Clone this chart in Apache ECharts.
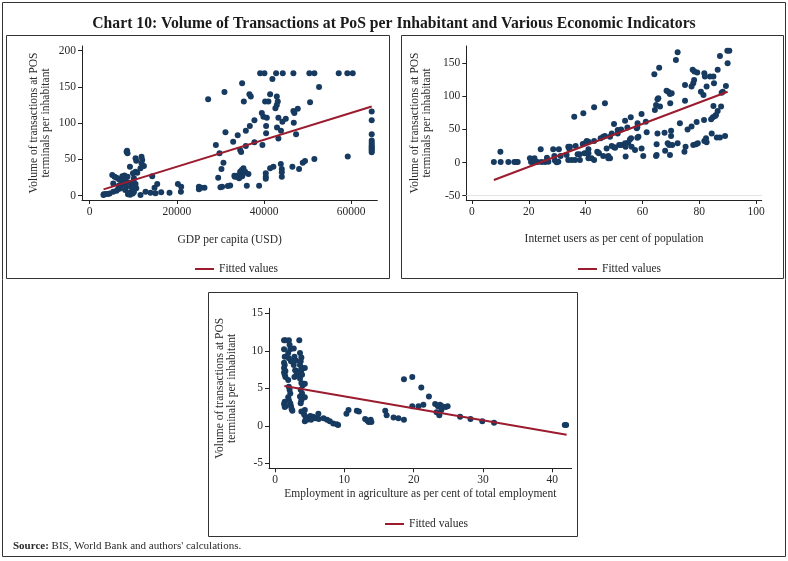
<!DOCTYPE html>
<html><head><meta charset="utf-8">
<script src="https://cdn.jsdelivr.net/npm/echarts@6/dist/echarts.min.js"></script>
<style>html,body{margin:0;padding:0;background:#fff}#c{width:788px;height:561px}</style>
</head><body><div id="c"></div>
<script>
// ---- Data ----
const titleText = 'Chart 10: Volume of Transactions at PoS per Inhabitant and Various Economic Indicators';
const yTitle = 'Volume of transactions at POS\nterminals per inhabitant';
const xTitles = ['GDP per capita (USD)', 'Internet users as per cent of population', 'Employment in agriculture as per cent of total employment'];
const legendName = 'Fitted values';
const sourceText = 'BIS, World Bank and authors\' calculations.';

const xTicks1 = [0, 20000, 40000, 60000];
const yTicks1 = [0, 50, 100, 150, 200];
const xTicks2 = [0, 20, 40, 60, 80, 100];
const yTicks2 = [-50, 0, 50, 100, 150];
const xTicks3 = [0, 10, 20, 30, 40];
const yTicks3 = [-5, 0, 5, 10, 15];

// Panel 1: GDP per capita vs volume
const gdpPoints = [
[3200,1],[3240,2],[3700,2.3],[4210,2.3],[4600,3],[5430,5.5],[6186,7],[6506,9],[7000,10],
[5200,28.5],[5728,26.2],[6186,24.8],[6735,22.6],[7101,21.6],[5430,17],[6735,14],[7300,15],[7900,16],
[7500,27],[7800,25],[8000,28],[8200,22],[8500,19],[8700,26],[7700,20],[8400,12],
[8480,60.7],[8700,58.5],[8600,62],[9255,40],
[10540,51.6],[10700,48.3],[11910,53.8],[12070,49.2],[11910,44.7],[12460,41],[11680,37.8],
[9942,31],[10540,33],[10930,31.7],
[10170,24],[9622,12.4],[10540,16.1],[10700,10.2],[9782,7.9],[9400,18],[10100,20],
[8170,8],[8800,2],[9300,1.5],[9900,3],[10170,5],[9000,4],
[11680,1],[12830,5.5],[13975,4],[15120,3.3],[16425,4.7],
[14365,27],[14890,11],[15510,16],[18330,4],
[20250,16],[21010,12.4],[20940,5.5],
[25070,12.4],[25070,8.8],[25590,11],[26350,11],
[27190,133],[30930,143],[31160,87.4],[28960,70],[29790,58.5],[30700,45.5],[30240,36.8],[29490,24.8],[30010,11.6],[30400,12.4],[31700,13.4],
[32925,74.5],[33206,27.6],[33969,83.4],[33740,26],
[34983,155],[41924,161],[52623,150],[36655,140],[36975,137],[35372,130],[40252,130],[41008,130],[41397,140],[42932,137],[43161,130],[42932,125],[42612,120.5],[50561,129],
[46736,117],[46965,114],[47744,120],[39496,114],[39863,109],[40642,107.6],[37800,104],[43300,107.6],[44216,102],[44994,106],[46826,100.7],
[36746,96],[35830,89.7],[40481,96],[40481,86],[42979,94],[43895,89.7],[43300,79],[47354,84.7],[37800,73.6],[39635,70],[35830,68.6],[34525,63],[34754,60.3],[59200,54],
[64700,116],[64700,104],[64700,84.7],[64700,76],[64700,73],[64700,70],[64700,68],[64700,66],[64700,64],[64700,62],[64700,60],
[51546,50.6],[49400,47.9],[48880,45.5],[48040,36.8],[46507,40],[43850,43.7],[44078,36.8],[44078,32.3],[44078,26.2],[42153,40],[41397,37.8],
[40405,30.9],[40405,26.2],[40405,23.4],[38877,13.8],[36059,13.8],[35280,37.8],[34910,35.4],[34525,33.1],[35280,30.9],[35670,33.1],[36430,30],
[34000,28],[33300,26],[34300,24],[35000,27],[32237,14],
[39113,169],[40092,169],[42773,169],[44300,169],[46736,169],[50400,169],[51546,169],[57135,169],[59107,169],[60344,169]
];
const gdpFit = [[3200,8.8],[64700,123]];

// Panel 2: Internet users vs volume
const netPoints = [
[7.7,1],[10.1,1],[12.8,1],[14.9,1],[15.7,1],[16.1,1],[10,16.5],
[20.4,6.4],[22,6.4],[20.8,1],[21.5,1],[24.2,20],[23.1,1],[24.5,1],[25.7,1],[26.9,1.4],[26.4,7.4],
[28.6,20],[30.6,20],[29,10],[29.2,3],[30.4,1.4],[29.8,0.5],[31.2,10],
[33.9,24],[34.2,21.4],[34.5,24],[33.3,11.5],[33.9,4],[35.1,4],
[36,69.3],[36.5,25],[37.2,12.5],[37.9,12.5],[36.3,4],[38,4],
[39.2,74.4],[39,28],[39.8,29],[40.4,32.5],[41,31.5],[39.6,14],[40.3,14],[41,14],[41,20],[41,6.4],[42.1,6.4],[43,4],
[43,83.5],[43,32.5],[44.1,16.5],[44.5,15],[44.7,14],[45.3,36.6],[46.2,39],[46.8,40],[46.2,10],[48,10],[48,6.4],
[46.8,89.5],[47.4,21.4],[48.6,39],[49.2,44],[49.2,25],[50,23],[50.4,22.4],[48.6,6.4],[50,58.3],
[51.3,44],[51.3,49],[52.5,50],[51.8,26.5],[52.7,26.5],[53.9,29],[54.1,24],[53.9,63.3],[54.1,9],[54.7,53],
[55,30],[55.6,35],[56,36.6],[55.9,68.6],[56.2,24],[57.4,19],[58,51.8],[58.2,53.2],[58.3,59.3],[58.2,37.6],[58.6,39],
[59.7,73.4],[59.7,21.4],[60.3,10],[61.2,61.8],[61.5,45.7],
[64.2,133.3],[64.4,79.5],[64.8,87],[65.3,95.6],[65.6,97],[65,11.5],[64.8,10],[65,27.6],[65.3,44],[65.9,143.3],[66.2,84.5],
[67.8,45],[68,18],[68.5,108.5],[69.1,107],[69.7,103.6],[70.3,104.6],[68.9,29],[69.4,26.5],[69.7,11.5],[70.1,48],[70.1,40],[69.8,89.5],[70.5,26.5],
[71.8,155],[72.4,166.6],[72.4,29],[73.2,59.3],[75,93.5],[75,117],[74.8,16.5],[75.2,24],[75.9,50],[77.3,54.3],
[77.7,140],[78.3,137.4],[78.2,124.8],[77.9,119.8],[77.3,114.7],[77.9,26.5],[78.9,27.6],[79.5,29],[79.3,136],[79.1,61.3],
[80.6,107],[81.5,102],[81.7,64.3],[81.8,135],[82,130],[81.8,32.6],[82.4,36.6],[82.6,30.5],[82.6,114.7],[83.8,130],[85,130],[84.4,44],
[84.2,65.4],[84.8,68.4],[85.6,70.4],[85.9,71.9],[85.2,119.8],[85,85.6],[86.5,78],[86.5,140],
[86.2,38],[87.3,38],[87.3,161],[87.9,105.6],[88.3,107],[87.7,84.5],[89.1,40],[89.4,115.7],[89.9,169],[90.6,169],[90,150]
];
const netFit = [[7.7,-26.3],[90,107]];

// Panel 3: Employment in agriculture vs volume
const agriPoints = [
[1.3,11.4],[1.5,11.4],[1.3,10.2],[1.4,9.2],[1.3,8.4],[1.4,8.1],[1.3,7.7],[1.5,7.3],[1.3,7.1],[1.4,6.8],[1.5,6.5],[1.4,3.2],[1.3,2.9],[1.5,2.6],[1.4,2.5],
[2.0,11.4],[2.1,10.8],[2.2,10.2],[1.9,9.7],[2.0,9.0],[2.3,8.6],[1.9,6.1],[2.0,5.2],[2.1,4.8],[2.2,4.3],[1.9,3.8],[2.0,3.4],[2.2,3.0],[2.3,2.6],[2.4,2.2],[2.5,2.0],
[2.7,10.3],[2.8,9.2],[3.0,8.7],[2.7,8.1],[2.9,7.4],[3.1,6.8],[2.8,6.5],[3.2,7.3],
[3.5,11.4],[3.6,9.7],[3.8,9.1],[3.7,8.6],[3.6,8.1],[3.9,7.7],[3.8,7.4],[3.7,7.1],[3.9,6.8],[3.6,6.3],[3.8,5.7],[4.0,5.4],[3.7,4.8],[3.9,4.3],[3.6,3.9],[3.8,3.4],[3.7,3.0],
[4.3,7.7],[4.3,5.6],[4.3,3.8],[4.3,2.1],
[3.8,1.9],[4.2,1.5],[4.4,1.2],[4.6,0.8],[4.3,0.6],[4.8,0.9],[5.1,1.3],[5.5,1.2],[5.8,1.0],[6.3,0.9],[5.2,0.8],[6.25,1.6],
[7.0,1.0],[7.5,0.8],[7.9,0.6],[8.4,0.3],[8.9,0.2],[9.1,0.1],
[10.3,1.6],[10.6,2.1],[11.8,2.0],[12.1,1.9],[13.0,0.9],[13.3,0.7],[13.5,0.5],[13.8,0.8],[13.9,0.5],
[15.9,2.0],[16.1,1.4],[17.1,1.1],[17.8,1.0],[18.6,0.8],[18.6,6.2],[19.8,6.5],[19.8,2.6],[20.7,2.6],[21.4,2.8],[21.1,5.1],[22.2,3.9],
[23.1,2.9],[23.5,2.6],[23.8,2.8],[24.1,2.6],[23.3,1.8],[23.7,1.4],[24.0,2.1],[24.6,2.5],[24.9,2.6],
[26.7,1.2],[28.2,0.9],[29.9,0.6],[31.6,0.4],[41.8,0.1],[42.0,0.1]
];
const agriFit = [[1.35,5.3],[42.07,-1.2]];

// ---- Styling / layout ----
const FONT = 'Liberation Serif';
const DOT = '#173a60';
const FIT = '#9a1c2e';
const TXT = '#2a2a2a';

function xAxisDef(gi, min, max, ticks, name, gap) {
  return {
    type: 'value', gridIndex: gi, min: min, max: max,
    name: name, nameLocation: 'middle', nameGap: gap,
    nameTextStyle: {fontFamily: FONT, fontSize: 11.5, color: TXT},
    axisLine: {show: true, onZero: false, lineStyle: {color: '#222', width: 1}},
    axisTick: {show: true, length: 4, customValues: ticks, lineStyle: {color: '#222'}},
    axisLabel: {customValues: ticks, margin: 6, fontFamily: FONT, fontSize: 11.5, color: TXT,
      formatter: function (v) { return String(v); }},
    splitLine: {show: false}
  };
}
function yAxisDef(gi, min, max, ticks, gap) {
  return {
    type: 'value', gridIndex: gi, min: min, max: max,
    name: yTitle, nameLocation: 'middle', nameGap: gap, nameRotate: 90,
    nameTextStyle: {fontFamily: FONT, fontSize: 11.5, color: TXT, lineHeight: 12},
    axisLine: {show: true, onZero: false, lineStyle: {color: '#222', width: 1}},
    axisTick: {show: true, length: 4, customValues: ticks, lineStyle: {color: '#222'}},
    axisLabel: {customValues: ticks, margin: 6, fontFamily: FONT, fontSize: 11.5, color: TXT,
      formatter: function (v) { return String(v); }},
    splitLine: {show: false}
  };
}
function scatter(i, data) {
  return {type: 'scatter', name: 'pts' + i, xAxisIndex: i, yAxisIndex: i, data: data,
    symbol: 'circle', symbolSize: 6, itemStyle: {color: DOT, opacity: 1}, silent: true};
}
function fitLine(i, data) {
  return {type: 'line', name: legendName, xAxisIndex: i, yAxisIndex: i, data: data,
    showSymbol: false, lineStyle: {color: FIT, width: 2}, itemStyle: {color: FIT}, silent: true, z: 5};
}
function legendDef(left, top) {
  return {left: left, top: top, data: [legendName], icon: 'rect', itemWidth: 19, itemHeight: 2, itemGap: 5,
    textStyle: {fontFamily: FONT, fontSize: 11.5, color: TXT}, selectedMode: false};
}

const chart = echarts.init(document.getElementById('c'), null, {renderer: 'canvas'});
const p2 = scatter(1, netPoints);
p2.markLine = {silent: true, symbol: 'none', label: {show: false}, lineStyle: {color: '#e4e4e4', width: 1, type: 'solid'}, data: [{yAxis: -50}]};
chart.setOption({
  animation: false,
  backgroundColor: '#fff',
  title: {text: titleText, left: 'center', top: 11,
    textStyle: {fontFamily: FONT, fontWeight: 'bold', fontSize: 15.7, color: '#1a1a1a'}},
  grid: [
    {left: 82, right: 410.7, top: 46, bottom: 361},
    {left: 466.3, right: 26.3, top: 46, bottom: 361},
    {left: 269, right: 216.3, top: 308.3, bottom: 92.7}
  ],
  xAxis: [
    xAxisDef(0, -1740, 65980, xTicks1, xTitles[0], 34),
    xAxisDef(1, -2, 102, xTicks2, xTitles[1], 33),
    xAxisDef(2, -0.87, 42.8, xTicks3, xTitles[2], 20)
  ],
  yAxis: [
    yAxisDef(0, -5.9, 206.5, yTicks1, 30),
    yAxisDef(1, -56.5, 176, yTicks2, 33),
    yAxisDef(2, -5.67, 15.67, yTicks3, 31)
  ],
  legend: [legendDef(190, 258), legendDef(573, 258), legendDef(380, 513)],
  series: [
    scatter(0, gdpPoints), p2, scatter(2, agriPoints),
    fitLine(0, gdpFit), fitLine(1, netFit), fitLine(2, agriFit)
  ],
  graphic: [
    {type: 'rect', shape: {x: 2.5, y: 2.5, width: 783, height: 554}, style: {fill: 'none', stroke: '#333', lineWidth: 1}, silent: true},
    {type: 'rect', shape: {x: 6.5, y: 35.5, width: 383, height: 243}, style: {fill: 'none', stroke: '#333', lineWidth: 1}, silent: true},
    {type: 'rect', shape: {x: 401.5, y: 35.5, width: 382, height: 243}, style: {fill: 'none', stroke: '#333', lineWidth: 1}, silent: true},
    {type: 'rect', shape: {x: 208.5, y: 292.5, width: 369, height: 244}, style: {fill: 'none', stroke: '#333', lineWidth: 1}, silent: true},
    {type: 'text', left: 13, top: 541, silent: true,
      style: {text: '{b|Source:} ' + sourceText, fill: TXT, font: '11px "Liberation Serif"',
        rich: {b: {fontWeight: 'bold', fontFamily: FONT, fontSize: 11, fill: TXT}}}}
  ]
});
</script>
</body></html>
